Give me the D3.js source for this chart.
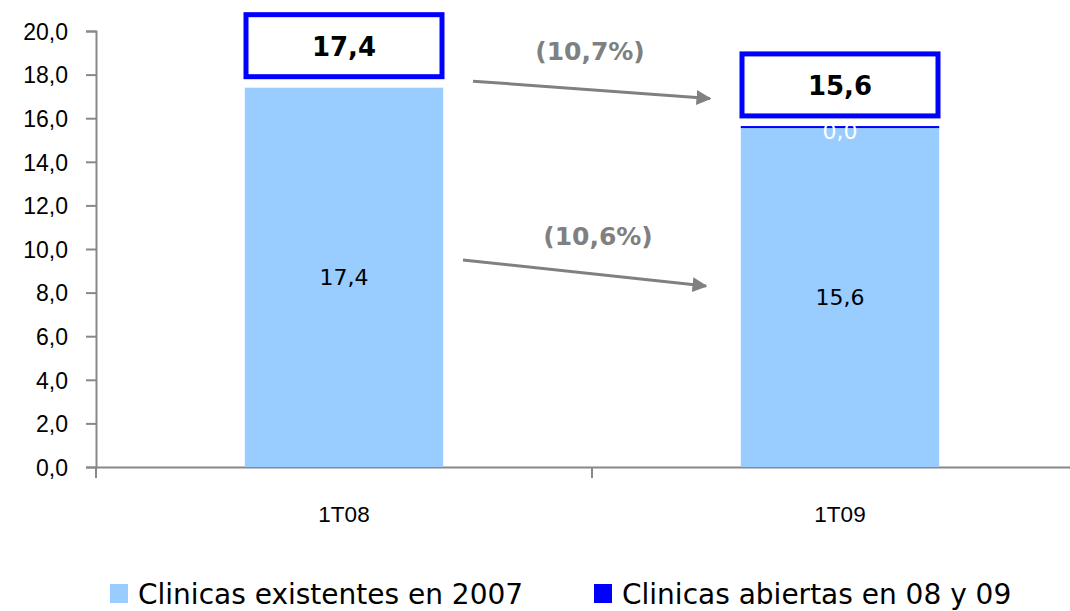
<!DOCTYPE html>
<html>
<head>
<meta charset="utf-8">
<script src="https://cdn.jsdelivr.net/npm/d3@7"></script>
<style>
  body { margin: 0; background: #fff; }
  svg { font-family: "DejaVu Sans", sans-serif; }
</style>
</head>
<body>
<svg width="1070" height="611"></svg>
<script>
let categories = ["1T08", "1T09"];
let existentes = [17.4, 15.6];
let abiertas = [0, 0.04];
let totals = [17.4, 15.6];
let changes = ["(10,7%)", "(10,6%)"];
let yTicks = [0, 2, 4, 6, 8, 10, 12, 14, 16, 18, 20];
let legendLabels = ["Clinicas existentes en 2007", "Clinicas abiertas en 08 y 09"];
let colors = ["#99ccff", "#0000ff"];

let svg = d3.select("svg");
let fmt = v => d3.format(".1f")(v).replace(".", ",");

let x = d3.scaleBand().domain(categories).range([96, 1088]).paddingInner(0).paddingOuter(0);
let y = d3.scaleLinear().domain([0, 20]).range([467, 31]);
let bw = x.bandwidth() * 0.4;
let cx = c => x(c) + x.bandwidth() / 2;

// y axis
let yAxis = svg.append("g")
  .attr("transform", "translate(96,0)")
  .call(d3.axisLeft(y).tickValues(yTicks).tickSize(10).tickPadding(18).tickFormat(fmt));
yAxis.select(".domain").attr("stroke", "#888").attr("stroke-width", 2);
yAxis.selectAll(".tick line").attr("stroke", "#888").attr("stroke-width", 2);
yAxis.selectAll("text").attr("font-size", 23).attr("fill", "#000").attr("dy", "0.36em");

// x axis
let xAxis = svg.append("g")
  .attr("transform", "translate(0,467)")
  .call(d3.axisBottom(x).tickSize(0).tickPadding(39));
xAxis.select(".domain").attr("stroke", "#888").attr("stroke-width", 2);
xAxis.selectAll("text").attr("font-size", 22.5).attr("fill", "#000");
svg.append("g").selectAll("line")
  .data(categories.concat(["end"]))
  .join("line")
  .attr("x1", (d, i) => 96 + i * x.bandwidth())
  .attr("x2", (d, i) => 96 + i * x.bandwidth())
  .attr("y1", 467).attr("y2", 478)
  .attr("stroke", "#888").attr("stroke-width", 2);

// stacked bars
let stacked = d3.stack().keys([0, 1])(categories.map((c, i) => ({ c, 0: existentes[i], 1: abiertas[i] })));
svg.append("g").selectAll("g")
  .data(stacked)
  .join("g")
  .attr("fill", (d, i) => colors[i])
  .selectAll("rect")
  .data(d => d)
  .join("rect")
  .attr("x", d => cx(d.data.c) - bw / 2)
  .attr("width", bw)
  .attr("y", d => y(d[1]))
  .attr("height", d => Math.max(y(d[0]) - y(d[1]), d[1] - d[0] > 0 ? 2 : 0));

// values inside
svg.append("g").selectAll("text")
  .data(categories)
  .join("text")
  .attr("x", c => cx(c))
  .attr("y", (c, i) => y(existentes[i] / 2) + 8)
  .attr("text-anchor", "middle")
  .attr("font-size", 22)
  .text((c, i) => fmt(existentes[i]));

svg.append("text")
  .attr("x", cx(categories[1]))
  .attr("y", y(totals[1]) + 12)
  .attr("text-anchor", "middle")
  .attr("font-size", 22)
  .attr("fill", "#fff")
  .text(fmt(abiertas[1]));

// total boxes
let boxes = svg.append("g").selectAll("g")
  .data(categories)
  .join("g");
boxes.append("rect")
  .attr("x", c => cx(c) - 98)
  .attr("y", (c, i) => y(totals[i]) - 73)
  .attr("width", 196)
  .attr("height", 62)
  .attr("fill", "#fff")
  .attr("stroke", colors[1])
  .attr("stroke-width", 5);
boxes.append("text")
  .attr("x", c => cx(c))
  .attr("y", (c, i) => y(totals[i]) - 32)
  .attr("text-anchor", "middle")
  .attr("font-size", 26)
  .attr("font-weight", "bold")
  .text((c, i) => fmt(totals[i]));

// arrows
let defs = svg.append("defs");
defs.append("marker")
  .attr("id", "head")
  .attr("viewBox", "0 0 10 10")
  .attr("refX", 9).attr("refY", 5)
  .attr("markerWidth", 5).attr("markerHeight", 5)
  .attr("orient", "auto")
  .append("path").attr("d", "M0,0L10,5L0,10Z").attr("fill", "#808080");

let arrows = [
  { from: [473, y(17.7)], to: [710, y(16.9)], label: changes[0], lx: 590, ly: 60 },
  { from: [463, y(9.5)], to: [706, y(8.3)], label: changes[1], lx: 598, ly: 245 }
];
svg.append("g").selectAll("line")
  .data(arrows)
  .join("line")
  .attr("x1", d => d.from[0]).attr("y1", d => d.from[1])
  .attr("x2", d => d.to[0]).attr("y2", d => d.to[1])
  .attr("stroke", "#808080").attr("stroke-width", 3)
  .attr("marker-end", "url(#head)");
svg.append("g").selectAll("text")
  .data(arrows)
  .join("text")
  .attr("x", d => d.lx).attr("y", d => d.ly)
  .attr("text-anchor", "middle")
  .attr("font-size", 25)
  .attr("font-weight", "bold")
  .attr("fill", "#808080")
  .text(d => d.label);

// legend
let legend = svg.append("g").selectAll("g")
  .data(legendLabels)
  .join("g")
  .attr("transform", (d, i) => `translate(${i ? 594 : 110},0)`);
legend.append("rect")
  .attr("y", 584).attr("width", 18).attr("height", 19)
  .attr("fill", (d, i) => colors[i]);
legend.append("text")
  .attr("x", 28).attr("y", 604)
  .attr("font-size", 28)
  .text(d => d);
</script>
</body>
</html>
